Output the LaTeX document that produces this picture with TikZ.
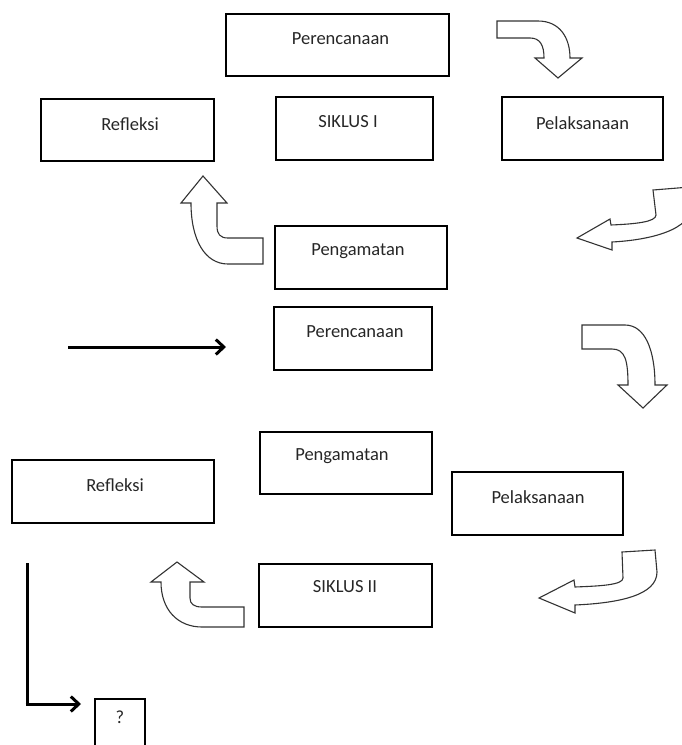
\documentclass[tikz,border=0pt]{standalone}
\usepackage{fontspec}
\setmainfont{Carlito}
\usetikzlibrary{arrows.meta}
\begin{document}
\begin{tikzpicture}[x=1pt,y=-1pt,
  box/.style={draw=black,line width=2.3pt,rectangle,inner sep=0pt},
  lbl/.style={font=\fontsize{18.5}{20}\selectfont,inner sep=0pt,text=black!85},
  curv/.style={draw=black!80,line width=1.1pt,fill=white,line join=miter},
  thick arrow/.style={line width=3pt,-{Straight Barb[length=8pt,width=15pt,line width=3pt]}}]
\useasboundingbox (0,0) rectangle (682,745);
\clip (0,0) rectangle (682,745);
% boxes
\node[box,minimum width=223pt,minimum height=62pt] (per1) at (337.5,45) {};
\node[box,minimum width=173pt,minimum height=62pt] (ref1) at (127.5,130) {};
\node[box,minimum width=157pt,minimum height=63pt] (sik1) at (354.5,128.5) {};
\node[box,minimum width=161pt,minimum height=63pt] (pel1) at (582.5,128.5) {};
\node[box,minimum width=172pt,minimum height=63pt] (pen1) at (361,257.5) {};
\node[box,minimum width=158pt,minimum height=63pt] (per2) at (353,338.5) {};
\node[box,minimum width=172pt,minimum height=62pt] (pen2) at (346,463) {};
\node[box,minimum width=202pt,minimum height=63pt] (ref2) at (113,491.5) {};
\node[box,minimum width=171pt,minimum height=63pt] (pel2) at (537.5,503.5) {};
\node[box,minimum width=173pt,minimum height=63pt] (sik2) at (345.5,595.5) {};
\node[box,minimum width=50pt,minimum height=60pt] (q) at (120,729) {};
% labels
\node[lbl] (tper1) at (340.5,39) {Perencanaan};
\node[lbl] (tref1) at (130,124) {Refleksi};
\node[lbl] (tsik1) at (348,122) {SIKLUS I};
\node[lbl] (tpel1) at (582.5,123) {Pelaksanaan};
\node[lbl] (tpen1) at (358,251) {Pengamatan};
\node[lbl] (tper2) at (355,332) {Perencanaan};
\node[lbl] (tpen2) at (342,456) {Pengamatan};
\node[lbl] (tref2) at (115,485) {Refleksi};
\node[lbl] (tpel2) at (538,497) {Pelaksanaan};
\node[lbl] (tsik2) at (345,587) {SIKLUS II};
\node[lbl] (tq) at (120,717) {?};
% straight arrows
\coordinate (a1s) at (68,347);
\coordinate (a1e) at (226,347);
\draw[thick arrow] (a1s) -- (a1e);
\coordinate (l1) at (27,563);
\coordinate (l2) at (27,704);
\coordinate (l3) at (81,704);
\draw[line width=3pt] (l1) -- (27,705.5);
\draw[thick arrow] (25.5,704) -- (l3);
% curved block arrows
\draw[curv] (497,21) -- (538,21) .. controls (560,21) and (570,38) .. (570,58) -- (582,58) -- (558,78) -- (535,58) -- (544,58) .. controls (544,45) and (540,38) .. (530,38) -- (497,38) -- cycle;
\draw[curv] (653,190) -- (690,187) -- (692,205) .. controls (692,230) and (650,240) .. (612,242) -- (612,250) -- (577,238) -- (610,219) -- (611,225) .. controls (635,224) and (656,222) .. (656,215) -- cycle;
\draw[curv] (203,176) -- (227,203) -- (217,203) -- (217,226) .. controls (217,234) and (220,238) .. (228,238) -- (263,238) -- (263,264) -- (228,264) .. controls (205,264) and (191,240) .. (191,203) -- (181,203) -- cycle;
\draw[curv] (582,325) -- (625,325) .. controls (645,325) and (655,350) .. (655,385) -- (667,385) -- (643,408) -- (618,385) -- (628,385) .. controls (628,360) and (625,349) .. (612,349) -- (582,349) -- cycle;
\draw[curv] (622,552) -- (655,550) -- (657,572) .. controls (657,595) and (620,603) .. (575,605) -- (575,613) -- (539,598) -- (574,580) -- (575,587) .. controls (600,586) and (623,585) .. (623,578) -- cycle;
\draw[curv] (177,562) -- (204,582) -- (190,582) -- (190,598) .. controls (190,604) and (194,607) .. (202,607) -- (244,607) -- (244,627) -- (202,627) .. controls (178,627) and (161,610) .. (161,582) -- (151,582) -- cycle;
\end{tikzpicture}
\end{document}
